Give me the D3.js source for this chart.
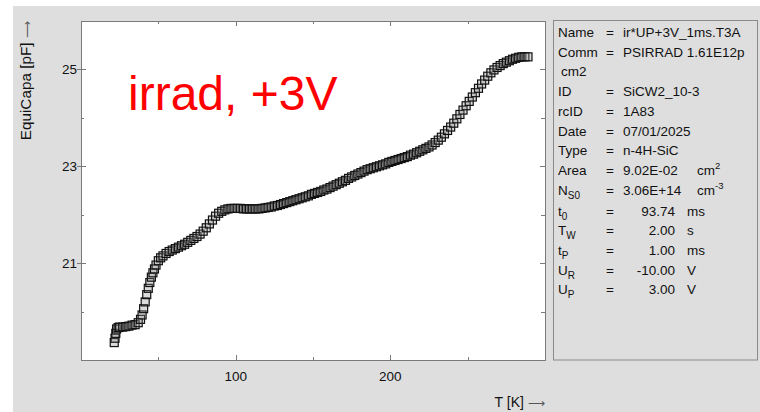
<!DOCTYPE html>
<html><head><meta charset="utf-8">
<script src="https://cdn.jsdelivr.net/npm/d3@7"></script>
<style>
body{margin:0;background:#fff}
svg{display:block}
text{font-family:"Liberation Sans",Arial,Helvetica,sans-serif}
</style>
</head><body>
<svg id="chart" width="760" height="412"></svg>
<script>
// ---- data ----
const temperatureK = [21.5,22,22.5,23,24,25,27,29,31,33,35,37,38.5,39.5,40.5,41.5,42.5,43.5,44.5,45.5,46.5,47.5,48.5,50,51.5,53,55,57,59,61,63,65,67,69,71,73,75,77,79,81,83,85,87,89,91,93,95,97,99,101,103,105,107,109,111,113,115,117,119,121,123,125,127,129,131,133,135,137,139,141,143,145,147,149,151,153,155,157,159,161,163,165,167,169,171,173,175,177,179,181,183,185,187,189,191,193,195,197,199,201,203,205,207,209,211,213,215,217,219,221,223,225,227,229,231,233,235,237,239,241,243,245,247,249,251,253,255,257,259,261,263,265,267,269,271,273,275,277,279,281,283,285,287,289];
const equiCapa = [19.36,19.45,19.55,19.64,19.67,19.68,19.68,19.69,19.70,19.72,
  19.73,19.77,19.84,19.93,20.06,20.2,20.35,20.48,20.6,20.71,
  20.8,20.88,20.96,21.05,21.11,21.15,21.2,
  21.24,21.27,21.3,21.33,21.36,21.39,21.43,21.47,21.51,21.55,
  21.6,21.66,21.73,21.81,21.89,21.97,22.03,22.07,22.1,22.12,
  22.13,22.13,22.13,22.13,22.12,22.12,22.12,22.12,22.12,22.12,
  22.13,22.14,22.15,22.16,22.18,22.19,22.21,22.23,22.25,22.27,
  22.29,22.31,22.33,22.35,22.37,22.39,22.42,22.44,22.46,22.48,
  22.51,22.53,22.56,22.59,22.62,22.65,22.68,22.71,22.75,22.78,
  22.81,22.84,22.87,22.9,22.93,22.95,22.97,22.99,23.01,23.03,
  23.05,23.08,23.1,23.12,23.14,23.16,23.18,23.2,23.23,23.25,
  23.28,23.31,23.34,23.37,23.4,23.44,23.49,23.54,23.6,23.67,
  23.74,23.81,23.89,23.98,24.07,24.16,24.25,24.34,24.43,24.52,
  24.61,24.7,24.78,24.86,24.93,24.99,25.04,25.08,25.12,25.15,
  25.18,25.21,25.23,25.25,25.26,25.26,25.26];
const xTickLabels = [100, 200];
const xMinorTicks = [50, 150, 250];
const yTickLabels = [21, 23, 25];
const yMinorTicks = [20, 22, 24];
const xDomain = [0, 300];
const yDomain = [19, 26];
const xTitle = "T [K]";
const yTitle = "EquiCapa [pF]";
const titleArrow = "\u27F6";
const annotation = "irrad, +3V";
// info box: [label, label subscript, value, unit, unit superscript]
const infoUpper = [
  ["Name","","ir*UP+3V_1ms.T3A","",""],
  ["Comm","","PSIRRAD 1.61E12p","",""],
  [" cm2","",null,"",""],
  ["ID","","SiCW2_10-3","",""],
  ["rcID","","1A83","",""],
  ["Date","","07/01/2025","",""],
  ["Type","","n-4H-SiC","",""],
  ["Area","","9.02E-02","cm","2"],
  ["N","S0","3.06E+14","cm","-3"]
];
const infoLower = [
  ["t","0","93.74","ms"],
  ["T","W","2.00","s"],
  ["t","P","1.00","ms"],
  ["U","R","-10.00","V"],
  ["U","P","3.00","V"]
];

// ---- layout ----
const svg = d3.select("#chart");
const L = 81, R = 545, T = 21, B = 360;
const x = d3.scaleLinear().domain(xDomain).range([L, R]);
const y = d3.scaleLinear().domain(yDomain).range([B, T]);
const axisColor = "#7a7a7a";

svg.append("rect").attr("x",13).attr("y",6).attr("width",747).attr("height",406).attr("fill","#dedede");
svg.append("rect").attr("x",L).attr("y",T).attr("width",R-L).attr("height",B-T)
   .attr("fill","#fff").attr("stroke",axisColor).attr("stroke-width",1)
   .attr("shape-rendering","crispEdges");

// ticks
const tk = svg.append("g").attr("stroke",axisColor).attr("stroke-width",1).attr("shape-rendering","crispEdges");
const hy = v => Math.round(y(v))+0.5, hx = v => Math.round(x(v))+0.5;
yTickLabels.forEach(v=>{
  tk.append("line").attr("x1",L-4).attr("x2",L+5).attr("y1",hy(v)).attr("y2",hy(v));
  tk.append("line").attr("x1",R-5).attr("x2",R).attr("y1",hy(v)).attr("y2",hy(v));
});
yMinorTicks.forEach(v=>{
  tk.append("line").attr("x1",L).attr("x2",L+3).attr("y1",hy(v)).attr("y2",hy(v));
  tk.append("line").attr("x1",R-4).attr("x2",R).attr("y1",hy(v)).attr("y2",hy(v));
});
xTickLabels.forEach(v=>{
  tk.append("line").attr("x1",hx(v)).attr("x2",hx(v)).attr("y1",B-5).attr("y2",B);
  tk.append("line").attr("x1",hx(v)).attr("x2",hx(v)).attr("y1",T).attr("y2",T+5);
});
xMinorTicks.forEach(v=>{
  tk.append("line").attr("x1",hx(v)).attr("x2",hx(v)).attr("y1",B-3).attr("y2",B);
  tk.append("line").attr("x1",hx(v)).attr("x2",hx(v)).attr("y1",T).attr("y2",T+3);
});

// tick labels
svg.append("g").selectAll("text").data(yTickLabels).join("text")
  .attr("x",77).attr("y",d=>y(d)+5).attr("text-anchor","end")
  .attr("font-size",13.5).attr("fill","#111").text(d=>d);
svg.append("g").selectAll("text").data(xTickLabels).join("text")
  .attr("x",d=>x(d)).attr("y",381).attr("text-anchor","middle")
  .attr("font-size",13.5).attr("fill","#111").text(d=>d);

// axis titles
const xt = svg.append("text").attr("x",R).attr("y",407).attr("text-anchor","end")
  .attr("font-size",14).attr("fill","#111").text(xTitle+" ");
xt.append("tspan").attr("font-family","DejaVu Sans").attr("font-size",12).attr("fill","#555").text(titleArrow);
const yt = svg.append("text").attr("transform","translate(31,21) rotate(-90)").attr("text-anchor","end")
  .attr("font-size",15.3).attr("fill","#111").text(yTitle+"  ");
yt.append("tspan").attr("font-family","DejaVu Sans").attr("font-size",12).attr("fill","#555").text(titleArrow);

// data markers
const sz = 8;
svg.append("g").selectAll("rect").data(temperatureK.map((t,i)=>[t,equiCapa[i]])).join("rect")
  .attr("x",d=>x(d[0])-sz/2).attr("y",d=>y(d[1])-sz/2)
  .attr("width",sz).attr("height",sz)
  .attr("fill","#888").attr("fill-opacity",0.3)
  .attr("stroke","#111").attr("stroke-width",1.2);

// annotation
svg.append("text").attr("x",128).attr("y",109.5).attr("font-size",48)
  .attr("fill","#ff0000").text(annotation);

// info box
svg.append("rect").attr("x",553.5).attr("y",20.5).attr("width",204).attr("height",339.5)
  .attr("fill","none").attr("stroke","#8a8a8a").attr("stroke-width",1);
const info = svg.append("g").attr("font-size",13.5).attr("fill","#111");
const step = 19.7;
infoUpper.forEach((r,i)=>{
  const by = 37 + i*step;
  if (r[2] === null) {
    info.append("text").attr("x",561).attr("y",by).text(r[0].trim());
    return;
  }
  const lab = info.append("text").attr("x",558).attr("y",by).text(r[0]);
  if (r[1]) lab.append("tspan").attr("font-size",10).attr("dy",4).text(r[1]);
  info.append("text").attr("x",606).attr("y",by).text("=");
  info.append("text").attr("x",623).attr("y",by).text(r[2]);
  if (r[3]) {
    const u = info.append("text").attr("x",697).attr("y",by).text(r[3]);
    u.append("tspan").attr("font-size",9.5).attr("dy",-6).text(r[4]);
  }
});
infoLower.forEach((r,i)=>{
  const by = 215.5 + i*step;
  const lab = info.append("text").attr("x",558).attr("y",by).text(r[0]);
  lab.append("tspan").attr("font-size",10).attr("dy",4).text(r[1]);
  info.append("text").attr("x",606).attr("y",by).text("=");
  info.append("text").attr("x",675).attr("y",by).attr("text-anchor","end").text(r[2]);
  info.append("text").attr("x",687).attr("y",by).text(r[3]);
});
</script>
</body></html>
